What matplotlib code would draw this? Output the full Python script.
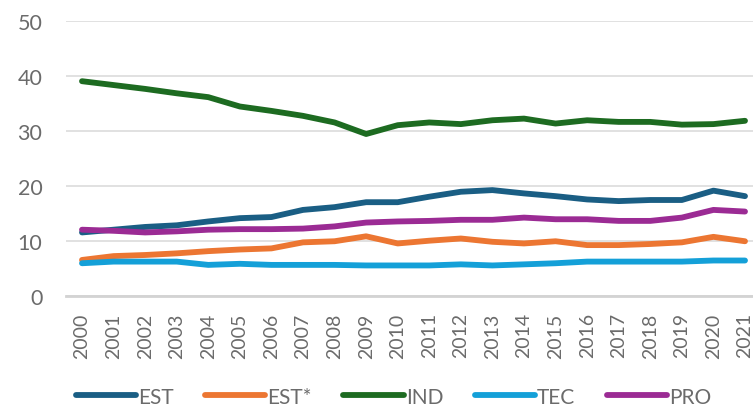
import numpy as np
import matplotlib
matplotlib.use('Agg')
import matplotlib.pyplot as plt

# ===== 数据 =====
years = list(range(2000, 2022))
est = [11.5, 12.0, 12.5, 12.8, 13.5, 14.1, 14.3, 15.6, 16.1, 17.0, 17.0,
       18.0, 18.9, 19.2, 18.6, 18.1, 17.5, 17.2, 17.4, 17.4, 19.1, 18.1]
est_star = [6.5, 7.2, 7.4, 7.7, 8.1, 8.4, 8.6, 9.7, 9.9, 10.8, 9.5,
            10.0, 10.4, 9.8, 9.5, 9.9, 9.2, 9.2, 9.4, 9.7, 10.7, 9.9]
ind = [39.0, 38.3, 37.6, 36.8, 36.1, 34.4, 33.6, 32.7, 31.5, 29.4, 31.0,
       31.5, 31.2, 31.9, 32.2, 31.3, 31.9, 31.6, 31.6, 31.1, 31.2, 31.8]
tec = [5.9, 6.2, 6.2, 6.2, 5.6, 5.8, 5.6, 5.6, 5.6, 5.5, 5.5,
       5.5, 5.7, 5.5, 5.7, 5.9, 6.2, 6.2, 6.2, 6.2, 6.4, 6.4]
pro = [12.0, 11.8, 11.5, 11.7, 12.0, 12.1, 12.1, 12.2, 12.6, 13.3, 13.5,
       13.6, 13.8, 13.8, 14.2, 13.9, 13.9, 13.6, 13.6, 14.2, 15.6, 15.3]

labels = ['EST', 'EST*', 'IND', 'TEC', 'PRO']
colors = ['#1a5e84', '#ec7632', '#1d6b21', '#14a0d8', '#9b2b94']
series = [est, est_star, ind, tec, pro]

plt.rcParams['font.family'] = ['Lato', 'DejaVu Sans']
txt_col = '#6b6b6b'

fig = plt.figure(figsize=(7.53, 4.14), dpi=100)
W, H = 753, 414
ax = fig.add_axes([66/W, 1 - 296.7/H, (753-66)/W, (296.7-21.7)/H])

for vals, col, lab in zip(series, colors, labels):
    ax.plot(years, vals, color=col, lw=4.2, solid_capstyle='round',
            solid_joinstyle='round', label=lab)

ax.set_ylim(0, 50)
ax.set_xlim(2000 - 16/31.57, 2021 + 8/31.57)
ax.set_yticks([0, 10, 20, 30, 40, 50])
ax.set_xticks(years)
ax.set_xticklabels([str(y) for y in years], rotation=90)
ax.grid(axis='y', color='#dedede', lw=1.3)
ax.set_axisbelow(True)
for s in ['top', 'right', 'left']:
    ax.spines[s].set_visible(False)
ax.spines['bottom'].set_color('#d3d3d3'); ax.spines['bottom'].set_linewidth(2)
ax.tick_params(axis='y', length=0, pad=17, labelsize=15.5, colors=txt_col)
ax.tick_params(axis='x', length=0, pad=12, labelsize=14, colors=txt_col)

leg = fig.legend(loc='lower center', bbox_to_anchor=(393.5/W, -0.01), ncol=5, frameon=False,
                 fontsize=15, handlelength=2.9, handletextpad=0.1, columnspacing=1.5,
                 borderpad=0.0)
for t in leg.get_texts():
    t.set_color(txt_col)
for l in leg.get_lines():
    l.set_linewidth(4.2)
    l.set_solid_capstyle('round')

plt.savefig('out.png', dpi=100)
